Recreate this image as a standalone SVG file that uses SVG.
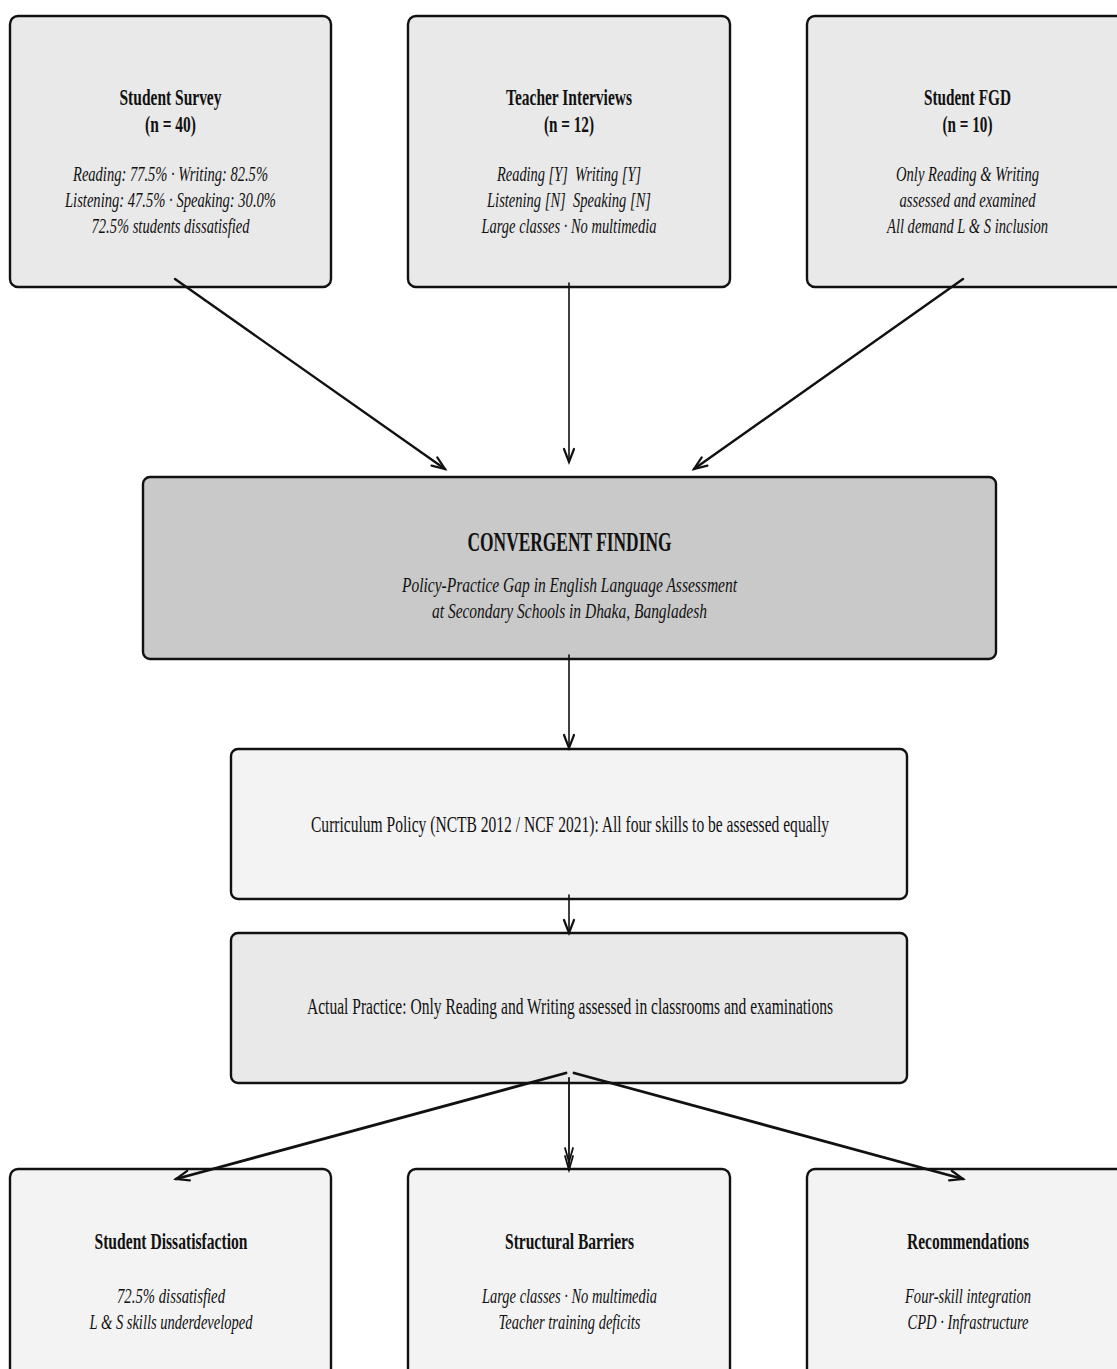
<svg xmlns="http://www.w3.org/2000/svg" width="1117" height="1369" viewBox="0 0 1117 1369">
<style>
.box{stroke:#111;stroke-width:2.4}
.f1{fill:#e9e9e9}
.f2{fill:#c9c9c9}
.f3{fill:#f3f3f3}
text{font-family:"Liberation Serif","Times New Roman",serif;fill:#111;text-anchor:middle;white-space:pre}
.t{font-weight:bold;font-size:23px}
.big{font-weight:bold;font-size:28px}
.i{font-style:italic;font-size:22px}
.r{font-size:23px}
.c{fill:none;stroke:#111;stroke-linecap:round}
</style>
<defs>
<marker id="ah" markerUnits="userSpaceOnUse" markerWidth="30" markerHeight="30" refX="0" refY="0" viewBox="-15 -15 30 30" orient="auto" overflow="visible">
<path d="M-13,-5 L0,0 L-13,5" fill="none" stroke="#111" stroke-width="2.2" stroke-linecap="round" stroke-linejoin="miter"/>
</marker>
<marker id="ah2" markerUnits="userSpaceOnUse" markerWidth="40" markerHeight="30" refX="0" refY="0" viewBox="-25 -15 40 30" orient="auto" overflow="visible">
<path d="M-14,-4 L0,0 L-14,4 M-22,-4 L-8,0 L-22,4" fill="none" stroke="#111" stroke-width="1.8" stroke-linecap="round"/>
</marker>
</defs>
<rect width="1117" height="1369" fill="#fff"/>

<g id="student-survey">
<rect class="box f1" x="10" y="16" width="321" height="271" rx="8"/>
<text class="t" x="170.5" y="105" textLength="102" lengthAdjust="spacingAndGlyphs">Student Survey</text>
<text class="t" x="170.5" y="132" textLength="51" lengthAdjust="spacingAndGlyphs">(n = 40)</text>
<text class="i" x="170.5" y="181" textLength="195" lengthAdjust="spacingAndGlyphs">Reading: 77.5% · Writing: 82.5%</text>
<text class="i" x="170.5" y="207" textLength="211" lengthAdjust="spacingAndGlyphs">Listening: 47.5% · Speaking: 30.0%</text>
<text class="i" x="170.5" y="233" textLength="158" lengthAdjust="spacingAndGlyphs">72.5% students dissatisfied</text>
</g>

<g id="teacher-interviews">
<rect class="box f1" x="408" y="16" width="322" height="271" rx="8"/>
<text class="t" x="569" y="105" textLength="126" lengthAdjust="spacingAndGlyphs">Teacher Interviews</text>
<text class="t" x="569" y="132" textLength="50" lengthAdjust="spacingAndGlyphs">(n = 12)</text>
<text class="i" x="569" y="181" textLength="144" lengthAdjust="spacingAndGlyphs">Reading [Y]  Writing [Y]</text>
<text class="i" x="569" y="207" textLength="164" lengthAdjust="spacingAndGlyphs">Listening [N]  Speaking [N]</text>
<text class="i" x="569" y="233" textLength="175" lengthAdjust="spacingAndGlyphs">Large classes · No multimedia</text>
</g>

<g id="student-fgd">
<rect class="box f1" x="807" y="16" width="321" height="271" rx="8"/>
<text class="t" x="967.5" y="105" textLength="87" lengthAdjust="spacingAndGlyphs">Student FGD</text>
<text class="t" x="967.5" y="132" textLength="50" lengthAdjust="spacingAndGlyphs">(n = 10)</text>
<text class="i" x="967.5" y="181" textLength="143" lengthAdjust="spacingAndGlyphs">Only Reading &amp; Writing</text>
<text class="i" x="967.5" y="207" textLength="136" lengthAdjust="spacingAndGlyphs">assessed and examined</text>
<text class="i" x="967.5" y="233" textLength="161" lengthAdjust="spacingAndGlyphs">All demand L &amp; S inclusion</text>
</g>

<g id="convergent-finding">
<rect class="box f2" x="143" y="477" width="853" height="182" rx="7"/>
<text class="big" x="569.5" y="551" textLength="204" lengthAdjust="spacingAndGlyphs">CONVERGENT FINDING</text>
<text class="i" x="569.5" y="592" textLength="335" lengthAdjust="spacingAndGlyphs">Policy-Practice Gap in English Language Assessment</text>
<text class="i" x="569.5" y="618" textLength="275" lengthAdjust="spacingAndGlyphs">at Secondary Schools in Dhaka, Bangladesh</text>
</g>

<g id="curriculum-policy">
<rect class="box f3" x="231" y="749" width="676" height="150" rx="7"/>
<text class="r" x="570" y="832" textLength="518" lengthAdjust="spacingAndGlyphs">Curriculum Policy (NCTB 2012 / NCF 2021): All four skills to be assessed equally</text>
</g>

<g id="actual-practice">
<rect class="box f1" x="231" y="933" width="676" height="150" rx="7"/>
<text class="r" x="570" y="1014" textLength="526" lengthAdjust="spacingAndGlyphs">Actual Practice: Only Reading and Writing assessed in classrooms and examinations</text>
</g>

<g id="student-dissatisfaction">
<rect class="box f3" x="10" y="1169" width="321" height="271" rx="8"/>
<text class="t" x="171" y="1249" textLength="153" lengthAdjust="spacingAndGlyphs">Student Dissatisfaction</text>
<text class="i" x="171" y="1303" textLength="108" lengthAdjust="spacingAndGlyphs">72.5% dissatisfied</text>
<text class="i" x="171" y="1329" textLength="163" lengthAdjust="spacingAndGlyphs">L &amp; S skills underdeveloped</text>
</g>

<g id="structural-barriers">
<rect class="box f3" x="408" y="1169" width="322" height="271" rx="8"/>
<text class="t" x="569.5" y="1249" textLength="129" lengthAdjust="spacingAndGlyphs">Structural Barriers</text>
<text class="i" x="569.5" y="1303" textLength="175" lengthAdjust="spacingAndGlyphs">Large classes · No multimedia</text>
<text class="i" x="569.5" y="1329" textLength="142" lengthAdjust="spacingAndGlyphs">Teacher training deficits</text>
</g>

<g id="recommendations">
<rect class="box f3" x="807" y="1169" width="321" height="271" rx="8"/>
<text class="t" x="968" y="1249" textLength="122" lengthAdjust="spacingAndGlyphs">Recommendations</text>
<text class="i" x="968" y="1303" textLength="126" lengthAdjust="spacingAndGlyphs">Four-skill integration</text>
<text class="i" x="968" y="1329" textLength="121" lengthAdjust="spacingAndGlyphs">CPD · Infrastructure</text>
</g>

<g id="connectors">
<line class="c" x1="175" y1="279" x2="445" y2="469" stroke-width="2.4" marker-end="url(#ah)"/>
<line class="c" x1="569" y1="283" x2="569" y2="462" stroke-width="1.6" marker-end="url(#ah)"/>
<line class="c" x1="963" y1="279" x2="694" y2="469" stroke-width="2.4" marker-end="url(#ah)"/>
<line class="c" x1="569" y1="655" x2="569" y2="748" stroke-width="1.6" marker-end="url(#ah)"/>
<line class="c" x1="569" y1="895" x2="569" y2="933" stroke-width="1.6" marker-end="url(#ah)"/>
<line class="c" x1="566" y1="1073" x2="176" y2="1179" stroke-width="2.8" marker-end="url(#ah)"/>
<line class="c" x1="569" y1="1078" x2="569" y2="1170" stroke-width="1.8" marker-end="url(#ah2)"/>
<line class="c" x1="574" y1="1073" x2="963" y2="1179" stroke-width="2.8" marker-end="url(#ah)"/>
</g>
</svg>
